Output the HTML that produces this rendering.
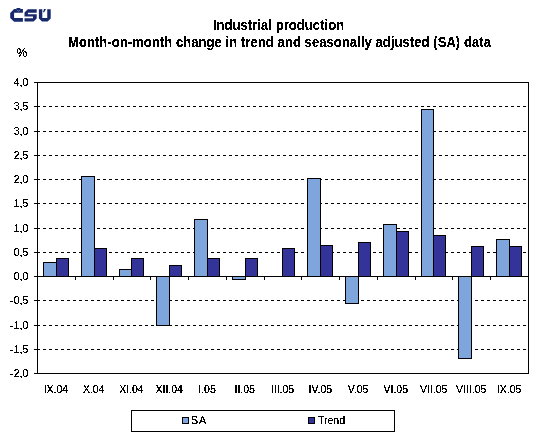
<!DOCTYPE html>
<html><head><meta charset="utf-8"><style>
html,body{margin:0;padding:0;background:#fff;}
body{width:556px;height:440px;overflow:hidden;position:relative;}
svg{position:absolute;left:0;top:0;}
.lab{font-family:"Liberation Sans",sans-serif;font-size:10.5px;fill:#000;}
.ttl{font-family:"Liberation Sans",sans-serif;font-size:13px;font-weight:bold;fill:#000;letter-spacing:0.08px;}
</style></head><body>
<svg width="556" height="440" viewBox="0 0 556 440" shape-rendering="crispEdges">
<defs><filter id="th" filterUnits="userSpaceOnUse" x="0" y="0" width="556" height="440" color-interpolation-filters="sRGB"><feComponentTransfer><feFuncA type="discrete" tableValues="0 1 1"/></feComponentTransfer></filter><filter id="th2" filterUnits="userSpaceOnUse" x="0" y="0" width="556" height="440" color-interpolation-filters="sRGB"><feComponentTransfer><feFuncA type="discrete" tableValues="0 0 1 1 1"/></feComponentTransfer></filter></defs>
<line x1="37" y1="106.5" x2="528" y2="106.5" stroke="#000" stroke-width="1" stroke-dasharray="3 3"/>
<line x1="37" y1="131.5" x2="528" y2="131.5" stroke="#000" stroke-width="1" stroke-dasharray="3 3"/>
<line x1="37" y1="155.5" x2="528" y2="155.5" stroke="#000" stroke-width="1" stroke-dasharray="3 3"/>
<line x1="37" y1="179.5" x2="528" y2="179.5" stroke="#000" stroke-width="1" stroke-dasharray="3 3"/>
<line x1="37" y1="203.5" x2="528" y2="203.5" stroke="#000" stroke-width="1" stroke-dasharray="3 3"/>
<line x1="37" y1="228.5" x2="528" y2="228.5" stroke="#000" stroke-width="1" stroke-dasharray="3 3"/>
<line x1="37" y1="252.5" x2="528" y2="252.5" stroke="#000" stroke-width="1" stroke-dasharray="3 3"/>
<line x1="37" y1="300.5" x2="528" y2="300.5" stroke="#000" stroke-width="1" stroke-dasharray="3 3"/>
<line x1="37" y1="325.5" x2="528" y2="325.5" stroke="#000" stroke-width="1" stroke-dasharray="3 3"/>
<line x1="37" y1="349.5" x2="528" y2="349.5" stroke="#000" stroke-width="1" stroke-dasharray="3 3"/>
<rect x="43.5" y="262.5" width="13" height="14" fill="#7fa6dc" stroke="#000" stroke-width="1"/>
<rect x="56.5" y="258.5" width="12" height="18" fill="#333399" stroke="#000" stroke-width="1"/>
<rect x="81.5" y="176.5" width="13" height="100" fill="#7fa6dc" stroke="#000" stroke-width="1"/>
<rect x="94.5" y="248.5" width="12" height="28" fill="#333399" stroke="#000" stroke-width="1"/>
<rect x="119.5" y="269.5" width="12" height="7" fill="#7fa6dc" stroke="#000" stroke-width="1"/>
<rect x="131.5" y="258.5" width="12" height="18" fill="#333399" stroke="#000" stroke-width="1"/>
<rect x="156.5" y="276.5" width="13" height="49" fill="#7fa6dc" stroke="#000" stroke-width="1"/>
<rect x="169.5" y="265.5" width="12" height="11" fill="#333399" stroke="#000" stroke-width="1"/>
<rect x="194.5" y="219.5" width="13" height="57" fill="#7fa6dc" stroke="#000" stroke-width="1"/>
<rect x="207.5" y="258.5" width="12" height="18" fill="#333399" stroke="#000" stroke-width="1"/>
<rect x="232.5" y="276.5" width="13" height="3" fill="#7fa6dc" stroke="#000" stroke-width="1"/>
<rect x="245.5" y="258.5" width="12" height="18" fill="#333399" stroke="#000" stroke-width="1"/>
<rect x="282.5" y="248.5" width="12" height="28" fill="#333399" stroke="#000" stroke-width="1"/>
<rect x="307.5" y="178.5" width="13" height="98" fill="#7fa6dc" stroke="#000" stroke-width="1"/>
<rect x="320.5" y="245.5" width="12" height="31" fill="#333399" stroke="#000" stroke-width="1"/>
<rect x="345.5" y="276.5" width="13" height="27" fill="#7fa6dc" stroke="#000" stroke-width="1"/>
<rect x="358.5" y="242.5" width="12" height="34" fill="#333399" stroke="#000" stroke-width="1"/>
<rect x="383.5" y="224.5" width="13" height="52" fill="#7fa6dc" stroke="#000" stroke-width="1"/>
<rect x="396.5" y="231.5" width="12" height="45" fill="#333399" stroke="#000" stroke-width="1"/>
<rect x="421.5" y="109.5" width="12" height="167" fill="#7fa6dc" stroke="#000" stroke-width="1"/>
<rect x="433.5" y="235.5" width="12" height="41" fill="#333399" stroke="#000" stroke-width="1"/>
<rect x="458.5" y="276.5" width="13" height="82" fill="#7fa6dc" stroke="#000" stroke-width="1"/>
<rect x="471.5" y="246.5" width="12" height="30" fill="#333399" stroke="#000" stroke-width="1"/>
<rect x="496.5" y="239.5" width="13" height="37" fill="#7fa6dc" stroke="#000" stroke-width="1"/>
<rect x="509.5" y="246.5" width="12" height="30" fill="#333399" stroke="#000" stroke-width="1"/>
<line x1="37" y1="82.5" x2="529" y2="82.5" stroke="#000"/>
<line x1="528.5" y1="82" x2="528.5" y2="374" stroke="#000"/>
<line x1="37" y1="373.5" x2="529" y2="373.5" stroke="#000"/>
<line x1="37.5" y1="82" x2="37.5" y2="374" stroke="#000"/>
<line x1="37" y1="276.5" x2="529" y2="276.5" stroke="#000"/>
<line x1="34" y1="82.5" x2="37" y2="82.5" stroke="#000"/>
<line x1="34" y1="106.5" x2="37" y2="106.5" stroke="#000"/>
<line x1="34" y1="131.5" x2="37" y2="131.5" stroke="#000"/>
<line x1="34" y1="155.5" x2="37" y2="155.5" stroke="#000"/>
<line x1="34" y1="179.5" x2="37" y2="179.5" stroke="#000"/>
<line x1="34" y1="203.5" x2="37" y2="203.5" stroke="#000"/>
<line x1="34" y1="228.5" x2="37" y2="228.5" stroke="#000"/>
<line x1="34" y1="252.5" x2="37" y2="252.5" stroke="#000"/>
<line x1="34" y1="276.5" x2="37" y2="276.5" stroke="#000"/>
<line x1="34" y1="300.5" x2="37" y2="300.5" stroke="#000"/>
<rect x="10" y="301" width="3" height="1" fill="#000"/>
<line x1="34" y1="325.5" x2="37" y2="325.5" stroke="#000"/>
<rect x="10" y="326" width="3" height="1" fill="#000"/>
<line x1="34" y1="349.5" x2="37" y2="349.5" stroke="#000"/>
<rect x="10" y="350" width="3" height="1" fill="#000"/>
<line x1="34" y1="373.5" x2="37" y2="373.5" stroke="#000"/>
<rect x="10" y="374" width="3" height="1" fill="#000"/>
<line x1="75.5" y1="276" x2="75.5" y2="280" stroke="#000"/>
<line x1="113.5" y1="276" x2="113.5" y2="280" stroke="#000"/>
<line x1="150.5" y1="276" x2="150.5" y2="280" stroke="#000"/>
<line x1="188.5" y1="276" x2="188.5" y2="280" stroke="#000"/>
<line x1="226.5" y1="276" x2="226.5" y2="280" stroke="#000"/>
<line x1="264.5" y1="276" x2="264.5" y2="280" stroke="#000"/>
<line x1="301.5" y1="276" x2="301.5" y2="280" stroke="#000"/>
<line x1="339.5" y1="276" x2="339.5" y2="280" stroke="#000"/>
<line x1="377.5" y1="276" x2="377.5" y2="280" stroke="#000"/>
<line x1="415.5" y1="276" x2="415.5" y2="280" stroke="#000"/>
<line x1="452.5" y1="276" x2="452.5" y2="280" stroke="#000"/>
<line x1="490.5" y1="276" x2="490.5" y2="280" stroke="#000"/>
<rect x="131.5" y="410.5" width="263" height="21" fill="#fff" stroke="#000"/>
<rect x="182.5" y="417.5" width="6" height="6" fill="#7fa6dc" stroke="#000"/>
<rect x="308.5" y="417.5" width="6" height="6" fill="#333399" stroke="#000"/>
<text x="278.5" y="30" text-anchor="middle" class="ttl" filter="url(#th2)" transform="translate(0 30) scale(1 1.1) translate(0 -30)">Industrial production</text>
<text x="279.5" y="47" text-anchor="middle" class="ttl" filter="url(#th2)" transform="translate(0 47) scale(1 1.1) translate(0 -47)">Month-on-month change in trend and seasonally adjusted (SA) data</text>
<g fill="#17286b" shape-rendering="geometricPrecision">
<path d="M14.1 9.1 H22.9 V12.8 H14.1 V18.1 H22.9 V21.8 H14.1 L10.2 17.9 V13 Z"/>
<path d="M16 8.1 H20.9 L18.45 10.6 Z"/>
<path d="M16.9 9.7 L18.45 11.4 L20.1 9.7" fill="none" stroke="#8a96c0" stroke-width="0.7"/>
<path d="M24.5 12.5 L27.8 9.3 H36.7 V12.8 H27.9 V14.2 H36.7 V18.5 L33.6 21.6 H24.5 V18.2 H33 V16.6 H24.5 Z"/>
<path d="M38.9 9.2 H42.3 V18 H47.25 V9.2 H50.7 V18.5 L47.6 21.6 H42 L38.9 18.5 Z"/>
<path d="M44 9.1 H46 L44.2 12.3 H43 Z"/>
</g>
<g filter="url(#th)">
<text x="28.3" y="86" text-anchor="end" class="lab">4,0</text>
<text x="28.3" y="110" text-anchor="end" class="lab">3,5</text>
<text x="28.3" y="135" text-anchor="end" class="lab">3,0</text>
<text x="28.3" y="159" text-anchor="end" class="lab">2,5</text>
<text x="28.3" y="183" text-anchor="end" class="lab">2,0</text>
<text x="28.3" y="207" text-anchor="end" class="lab">1,5</text>
<text x="28.3" y="232" text-anchor="end" class="lab">1,0</text>
<text x="28.3" y="256" text-anchor="end" class="lab">0,5</text>
<text x="28.3" y="280" text-anchor="end" class="lab">0,0</text>
<text x="28.3" y="304" text-anchor="end" class="lab">0,5</text>
<text x="28.3" y="329" text-anchor="end" class="lab">1,0</text>
<text x="28.3" y="353" text-anchor="end" class="lab">1,5</text>
<text x="28.3" y="377" text-anchor="end" class="lab">2,0</text>
<text x="55.9" y="393" text-anchor="middle" class="lab">IX.04</text>
<text x="93.7" y="393" text-anchor="middle" class="lab">X.04</text>
<text x="131.4" y="393" text-anchor="middle" class="lab">XI.04</text>
<text x="169.2" y="393" text-anchor="middle" class="lab">XII.04</text>
<text x="207.0" y="393" text-anchor="middle" class="lab">I.05</text>
<text x="244.7" y="393" text-anchor="middle" class="lab">II.05</text>
<text x="282.5" y="393" text-anchor="middle" class="lab">III.05</text>
<text x="320.3" y="393" text-anchor="middle" class="lab">IV.05</text>
<text x="358.0" y="393" text-anchor="middle" class="lab">V.05</text>
<text x="395.8" y="393" text-anchor="middle" class="lab">VI.05</text>
<text x="433.6" y="393" text-anchor="middle" class="lab">VII.05</text>
<text x="471.3" y="393" text-anchor="middle" class="lab">VIII.05</text>
<text x="509.1" y="393" text-anchor="middle" class="lab">IX.05</text>
<text x="191" y="424" class="lab" style="letter-spacing:1px">SA</text>
<text x="318" y="424" class="lab">Trend</text>
<text x="16.5" y="57" class="lab" style="font-size:12px">%</text>
</g>
</svg>
</body></html>
